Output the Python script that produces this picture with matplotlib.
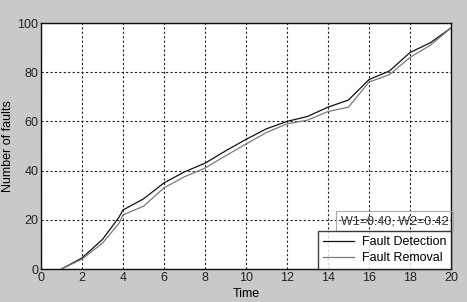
import numpy as np
import matplotlib.pyplot as plt

################################################################################
#
# data
time = [1, 2, 3, 3.8, 4, 5, 6, 7, 8, 9, 10, 11, 12, 13, 14, 15, 16, 17, 18, 19, 20]
detection = [0, 4.5, 12, 21, 24, 28.5, 35, 39.5, 43, 48, 52.7, 57, 60, 62, 65.8, 68.7, 77, 80.5, 88, 92, 98]
removal = [0, 4, 10.5, 18.5, 22, 25.5, 33, 37.5, 41, 46, 50.8, 55.5, 59, 60.5, 64, 65.8, 76, 79, 86, 91, 98]

xticks = np.arange(0, 21, 2)
yticks = np.arange(0, 101, 20)

################################################################################
#
# create plot
plt.rcParams['font.family'] = ['Liberation Sans', 'DejaVu Sans']
fig = plt.figure(figsize=(4.67, 3.02), dpi=100, facecolor='#c9c9c9')
ax = fig.add_axes([41 / 467, 1 - 269 / 302, 410 / 467, 246 / 302])

ax.plot(time, detection, color='#111111', lw=0.9, label='Fault Detection')
ax.plot(time, removal, color='#7a7a7a', lw=0.9, label='Fault Removal')

ax.set_xlim(0, 20)
ax.set_ylim(0, 100)
ax.set_xticks(xticks)
ax.set_yticks(yticks)
ax.tick_params(labelsize=9, length=0, pad=2, colors='#222222')
ax.grid(True, color='#222222', linestyle=(0, (2, 2)), lw=0.8)
for s in ax.spines.values():
    s.set_color('#111111')
    s.set_linewidth(1.0)

ax.set_xlabel('Time', fontsize=9, labelpad=3)
ax.set_ylabel('Number of faults', fontsize=9, labelpad=2)

leg = ax.legend(loc='lower right', fontsize=9, frameon=True, fancybox=False,
                borderaxespad=0, handlelength=2.5, handletextpad=0.6,
                labelspacing=0.3, borderpad=0.4)
leg.get_frame().set_edgecolor('#111111')
leg.get_frame().set_linewidth(1.0)

ax.text(0.993, 0.195, 'W1=0.40, W2=0.42', transform=ax.transAxes, ha='right',
        va='center', fontsize=9, color='#333333',
        bbox=dict(boxstyle='square,pad=0.35', fc='none', ec='#aaaaaa', lw=0.8))

fig.savefig('out.png', dpi=100, facecolor=fig.get_facecolor())
